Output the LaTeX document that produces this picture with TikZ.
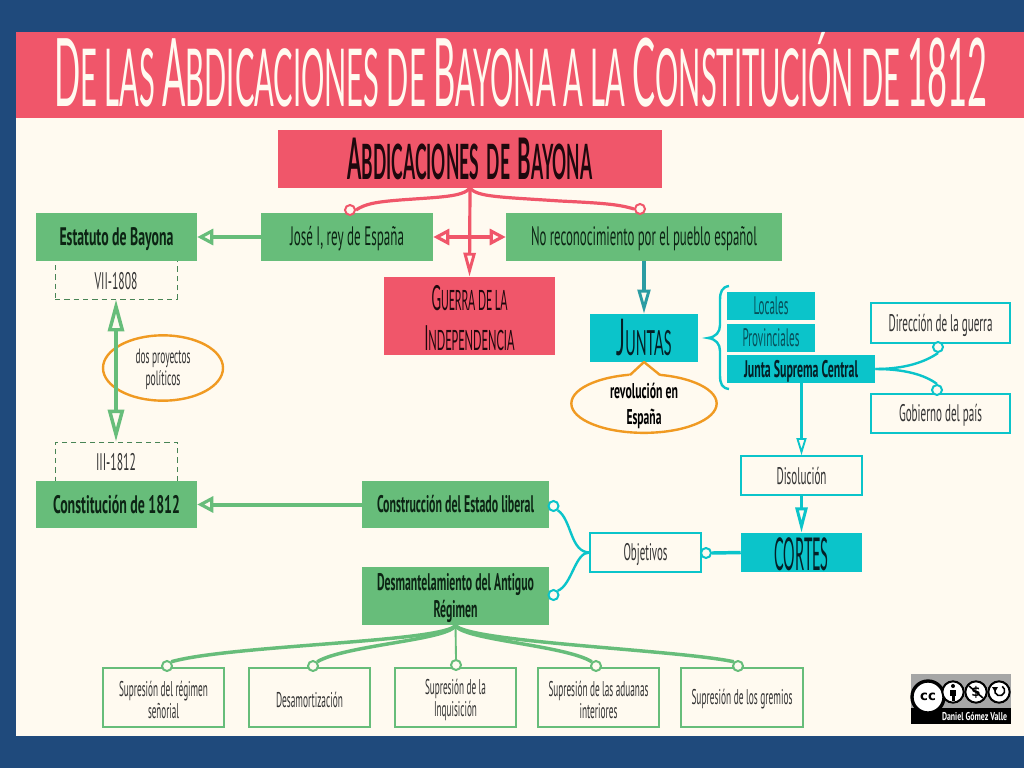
\documentclass[tikz,border=0pt]{standalone}
\usepackage{fontspec}
\setmainfont{PT Sans}
\newfontfamily\hd{Lato}
\newfontfamily\dvfont{DejaVu Sans}
\usetikzlibrary{arrows.meta,shapes.geometric}
\definecolor{navy}{HTML}{1F4A7C}
\definecolor{cream}{HTML}{FFFAF0}
\definecolor{rojo}{HTML}{F0566A}
\definecolor{verde}{HTML}{67BD7A}
\definecolor{cian}{HTML}{0BC4CA}
\definecolor{teal2}{HTML}{2B9CA3}
\definecolor{naranja}{HTML}{F09A22}
\definecolor{tverde}{HTML}{0C2414}
\definecolor{trojo}{HTML}{1F080D}
\definecolor{tcian}{HTML}{041F26}
\definecolor{tloc}{HTML}{07505A}
\definecolor{tgris}{HTML}{333333}
\newlength\pxu \pxu=.75pt
\normallineskiplimit=-100pt
\lineskiplimit=-100pt
\newcommand\txn[2]{\resizebox{#1\pxu}{\height}{#2}}
\newcommand\tx[2]{\raisebox{0pt}[\dimexpr\height+3pt][\depth]{\txn{#1}{#2}}}
\newcommand\bx[7][]{\node[boxbase,#2,#1,minimum width={(#5-#3)*.75pt},minimum height={(#6-#4)*.75pt}] at ({(#3+#5)/2},{(#4+#6)/2}) #7;}
\newcommand\Tg[1]{{\fontsize{71}{71}\selectfont #1}}
\newcommand\Hg[1]{{\fontsize{43}{43}\selectfont #1}}
\newcommand\Gg[1]{{\fontsize{26}{26}\selectfont #1}}
\newcommand\Jg[1]{{\fontsize{38}{38}\selectfont #1}}
\tikzset{
 boxbase/.style={rectangle,inner sep=0pt,align=center},
 fs/.style 2 args={font=\fontsize{#1}{#2}\selectfont},
 fsb/.style 2 args={font=\fontsize{#1}{#2}\selectfont\bfseries},
 rbox/.style={fill=rojo,text=trojo},
 gbox/.style={fill=verde,text=tverde,fs={20}{20}},
 gboxb/.style={fill=verde,text=tverde,fsb={19}{20}},
 cbox/.style={fill=cian,text=tcian},
 wbox/.style={draw=cian,line width=1pt,fill=cream,text=tgris,fs={18}{20}},
 dbox/.style={draw=verde!70!black,line width=.7pt,dash pattern=on 4pt off 3pt,text=tgris,fs={18}{20}},
 lbox/.style={draw=verde,line width=2pt,fill=cream,text=tgris,fs={16}{16.5}},
 redl/.style={draw=rojo,line width=2.4pt},
 grl/.style={draw=verde,line width=3pt},
 cyl/.style={draw=cian,line width=1.8pt},
 ddot/.style={circle,draw=#1,fill=cream,line width=1.5pt,inner sep=0pt,minimum size=7.5pt},
 ell/.style={ellipse,draw=naranja,line width=1.8pt,fill=cream,inner sep=0pt},
 ccw/.style={circle,draw=black,fill=white,inner sep=0pt,line width=1.5pt}
}
\begin{document}
\begin{tikzpicture}[x=.75pt,y=-.75pt]
\useasboundingbox (0,0) rectangle (1024,768);
% background
\fill[navy] (0,0) rectangle (1024,768);
\fill[cream] (16,32) rectangle (1024,736);
\fill[rojo] (16,32) rectangle (1024,118);
\node[anchor=base,text=cream,inner sep=0pt,font=\hd\fontsize{60}{60}\selectfont] (title) at (521,106)
 {\txn{934}{\Tg{D}E LAS \Tg{A}BDICACIONES DE \Tg{B}AYONA A LA \Tg{C}ONSTITUCIÓN DE \Tg{1812}}};
% dashed boxes (their inner edge is covered by the green box)
\bx{dbox}{55}{250}{177}{299}{(d1) {}}
\node[text=tgris,fs={18}{20},inner sep=0pt] (d1t) at (116,281) {\txn{43}{VII-1808}};
\bx{dbox}{55}{442}{177}{490}{(d2) {}}
\node[text=tgris,fs={18}{20},inner sep=0pt] (d2t) at (116,462) {\txn{40}{III-1812}};
% main nodes
\bx[font=\hd\bfseries\fontsize{36.5}{36.5}\selectfont]{rbox}{278}{130}{662}{188}{(abd) {\txn{245}{\Hg{A}BDICACIONES\hspace{.2em} DE\hspace{.2em} \Hg{B}AYONA}}}
\bx{gboxb}{36}{213}{197}{261}{(est) {\tx{114}{Estatuto de Bayona}}}
\bx{gbox}{261}{213}{433}{261}{(jose) {\tx{114}{José I, rey de España}}}
\bx{gbox}{506}{213}{782}{261}{(noreco) {\tx{226}{No reconocimiento por el pueblo español}}}
\bx[font=\hd\fontsize{21}{30}\selectfont]{rbox}{384}{277}{555}{355}{(guerra) {\tx{76}{\Gg{G}UERRA DE LA}\\\tx{90}{\Gg{I}NDEPENDENCIA}}}
\bx[font=\hd\fontsize{26}{26}\selectfont]{cbox}{590}{314}{698}{362}{(juntas) {\txn{55}{\Jg{J}UNTAS}}}
\bx[fs={19}{18},text=tloc]{cbox}{727}{292}{815}{320}{(loc) {\txn{35}{Locales}}}
\bx[fs={19}{18},text=tloc]{cbox}{727}{324}{815}{352}{(prov) {\txn{57}{Provinciales}}}
\bx[fsb={18}{18}]{cbox}{727}{355}{875}{383}{(jsc) {\tx{114}{Junta Suprema Central}}}
\bx{wbox}{871}{303}{1010}{343}{(dir) {\tx{104}{Dirección de la guerra}}}
\bx{wbox}{871}{394}{1010}{433}{(gob) {\tx{83}{Gobierno del país}}}
\bx{wbox}{741}{456}{862}{495}{(diso) {\txn{50}{Disolución}}}
\bx[font=\hd\fontsize{34}{34}\selectfont]{cbox}{741}{533}{862}{572}{(cortes) {\tx{54}{CORTES}}}
\bx{wbox}{590}{533}{701}{572}{(obj) {\tx{44}{Objetivos}}}
\bx{gboxb}{36}{481}{197}{528}{(cons) {\txn{127}{Constitución de 1812}}}
\bx[fsb={18}{20}]{gboxb}{362}{481}{549}{528}{(constr) {\txn{157}{Construcción del Estado liberal}}}
\bx[fsb={18}{20}]{gboxb}{362}{567}{549}{625}{(desm) {\tx{157}{Desmantelamiento del Antiguo}\\\tx{44}{Régimen}}}
% lower boxes
\bx{lbox}{103}{668}{224}{727}{(s1) {\tx{89}{Supresión del régimen}\\\tx{31}{señorial}}}
\bx{lbox}{249}{668}{370}{727}{(s2) {\tx{67}{Desamortización}}}
\bx{lbox}{395}{668}{516}{727}{(s3) {\tx{61}{Supresión de la}\\\tx{43}{Inquisición}}}
\bx{lbox}{538}{668}{659}{727}{(s4) {\tx{100}{Supresión de las aduanas}\\\tx{38}{interiores}}}
\bx{lbox}{681}{668}{803}{727}{(s5) {\tx{101}{Supresión de los gremios}}}
% ellipses
\node[ell,minimum width=90pt,minimum height=49pt] (ep) at (163,368) {};
\node[ell,minimum width=109pt,minimum height=44pt] (er) at (644,403.5) {};
\fill[cream] (644,361) -- (627,378) -- (662,378) -- cycle;
\coordinate (ertip) at (644,362);
\coordinate (erl) at (630,375);
\coordinate (err) at (660,375);
\draw[draw=naranja,line width=1.8pt,line join=round] (erl) -- (ertip) -- (err);
% dots
\node[ddot=rojo] (cj) at (350,210) {};
\node[ddot=rojo] (cn) at (640,209) {};
\node[ddot=cian] (cd) at (938,347) {};
\node[ddot=cian] (cg) at (937,390) {};
\node[ddot=cian] (co) at (706,553) {};
\node[ddot=cian] (cc1) at (553.5,506) {};
\node[ddot=cian] (cc2) at (553.5,595) {};
\node[ddot=verde] (f1) at (167,666) {};
\node[ddot=verde] (f2) at (313,666) {};
\node[ddot=verde] (f3) at (456,665) {};
\node[ddot=verde] (f4) at (596,666) {};
\node[ddot=verde] (f5) at (738,666) {};
% connectors: red
\draw[redl] (abd.south) .. controls (462,197) and (440,197) .. (400,200) .. controls (375,202) and (365,204) .. (cj.east);
\draw[redl] (abd.south) .. controls (478,197) and (500,197) .. (560,201) .. controls (600,203) and (618,204) .. (cn.west);
\draw[redl,-{Triangle[open,length=18pt,width=9pt,line width=2.2pt]}] (abd.south) -- (guerra.north);
\draw[redl,line width=3pt,{Triangle[open,length=12pt,width=12pt,line width=2.4pt]}-{Triangle[open,length=12pt,width=12pt,line width=2.4pt]}] (jose.east) -- (noreco.west);
% connectors: green
\draw[grl,-{Triangle[open,length=12pt,width=12pt,line width=2.4pt]}] (jose.west) -- (est.east);
\draw[grl,line width=3.6pt,{Triangle[open,length=24pt,width=12pt,line width=2.6pt]}-{Triangle[open,length=24pt,width=12pt,line width=2.6pt]}] (d1.south) -- (d2.north);
\draw[grl,-{Triangle[open,length=12pt,width=12pt,line width=2.4pt]}] (constr.west) -- (cons.east);
\draw[grl,line width=2.6pt] (desm.south) .. controls (445,642) and (230,645) .. (f1.north east);
\draw[grl,line width=2.6pt] (desm.south) .. controls (450,640) and (345,645) .. (f2.north east);
\draw[grl,line width=1.4pt] (desm.south) -- (f3.north);
\draw[grl,line width=2.6pt] (desm.south) .. controls (462,640) and (565,645) .. (f4.north west);
\draw[grl,line width=2.6pt] (desm.south) .. controls (467,642) and (680,650) .. (f5.north west);
% connectors: teal and cyan
\draw[draw=teal2,line width=3pt,-{Triangle[open,length=18pt,width=9.5pt,line width=2.2pt]}] (noreco.south -| juntas.north) -- (juntas.north);
\draw[cyl] (729,286) .. controls (722,287) and (720,292) .. (720,300) -- (720,325) .. controls (720,332) and (716,337) .. (708,338) .. controls (716,339) and (720,344) .. (720,351) -- (720,375) .. controls (720,384) and (722,388) .. (729,389);
\draw[cyl] (jsc.east) .. controls (905,369) and (925,362) .. (cd.south);
\draw[cyl] (jsc.east) .. controls (905,369) and (925,375) .. (cg.north);
\coordinate (jscb) at (jsc.south -| diso.north);
\draw[cyl,line width=1.6pt,-{Triangle[open,length=13pt,width=7.5pt,line width=1.4pt]}] (jscb) -- (diso.north);
\draw[cyl,line width=2.6pt,-{Triangle[open,length=19pt,width=9pt,line width=2.2pt]}] (diso.south) -- (cortes.north);
\draw[cyl,line width=2.6pt] (cortes.west) -- (co.east);
\draw[cyl] (obj.west) .. controls (570,552) and (572,520) .. (cc1.south east);
\draw[cyl] (obj.west) .. controls (575,552) and (572,585) .. (cc2.north east);
% ellipse texts
\node[text=tgris,fs={15.5}{16.5},align=center,inner sep=0pt] (ept) at (163,369) {\txn{55}{dos proyectos}\\\txn{35}{políticos}};
\node[text=black,fsb={16}{20},align=center,inner sep=0pt] (ert) at (644,406) {\txn{68}{revolución en}\\\txn{35}{España}};
% cc badge
\fill[black!35!white] (911,674) rectangle (1011,724);
\fill[black] (911,708) rectangle (1011,724);
\node[ccw,line width=2.5pt,minimum size=24pt,font=\dvfont\bfseries\fontsize{10}{10}\selectfont] (bcc) at (928,697) {cc};
\node[ccw,minimum size=16pt] (bi) at (953,692) {};
\node[ccw,minimum size=16pt,font=\dvfont\bfseries\fontsize{10}{10}\selectfont] (bs) at (976,692) {\$};
\node[ccw,minimum size=16pt] (ba) at (999,692) {};
\fill[black] (953,686) circle[radius=2];
\fill[black] (950,689.5) rectangle (956,696);
\fill[black] (951.5,696) rectangle (954.5,701);
\draw[black,line width=1.2pt] (969,686) -- (983,698);
\draw[black,line width=1.2pt] (995,689) arc[start angle=200,end angle=-60,radius=5];
\fill[black] (992,687) -- (998,687) -- (995,692) -- cycle;
\node[text=white,font=\fontsize{8.5}{10}\selectfont\bfseries,inner sep=0pt] (bt) at (974.5,716) {\txn{65}{Daniel Gómez Valle}};
\end{tikzpicture}
\end{document}
